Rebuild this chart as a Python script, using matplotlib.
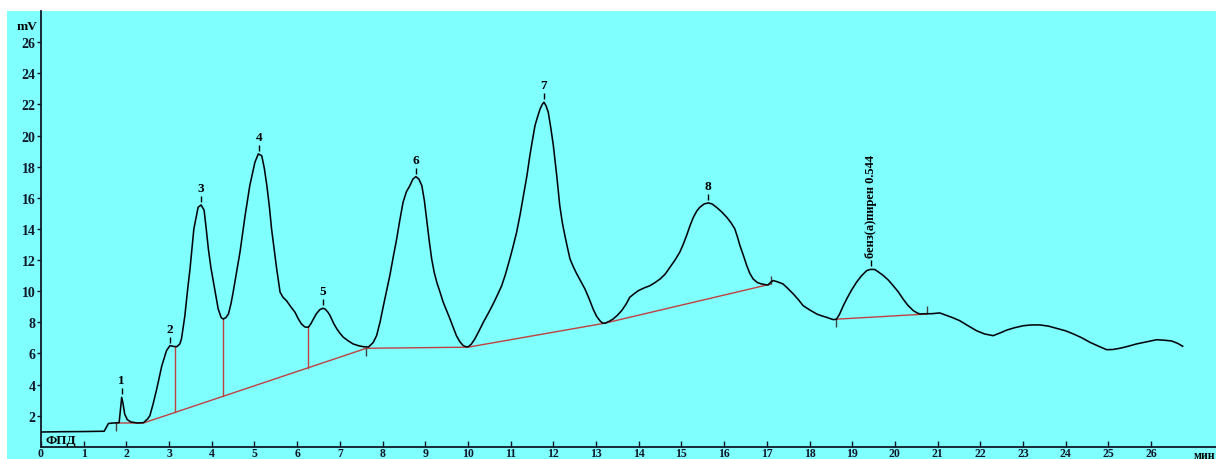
import matplotlib
matplotlib.use("Agg")
import matplotlib.pyplot as plt
import matplotlib.transforms as mtrans
from matplotlib.patches import Rectangle
import numpy as np

plt.rcParams['font.family'] = ['Liberation Serif', 'DejaVu Serif']
plt.rcParams['font.weight'] = 'bold'

# ---- chromatogram trace (time, min ; signal, mV) ----
time_min = [0.0, 0.5, 1.0, 1.48, 1.52, 1.58, 1.70, 1.83, 1.87, 1.89, 1.92, 1.96, 2.02, 2.10, 2.25,
            2.40, 2.50, 2.55, 2.63, 2.71, 2.83, 2.94, 3.02, 3.10, 3.18, 3.25, 3.29, 3.37, 3.43, 3.49,
            3.58, 3.68, 3.75, 3.82, 3.87, 3.92, 3.98, 4.04, 4.10, 4.15, 4.22, 4.27, 4.33, 4.39, 4.45,
            4.50, 4.58, 4.66, 4.78, 4.89, 5.01, 5.09, 5.17, 5.23, 5.29, 5.35, 5.40, 5.46, 5.52, 5.60,
            5.67, 5.75, 5.85, 5.95, 6.02, 6.10, 6.18, 6.26, 6.32, 6.38, 6.45, 6.53, 6.60, 6.65, 6.72,
            6.77, 6.86, 6.93, 7.00, 7.08, 7.20, 7.31, 7.43, 7.55, 7.67, 7.78, 7.86, 7.94, 8.02, 8.10,
            8.17, 8.25, 8.33, 8.40, 8.48, 8.56, 8.64, 8.71, 8.78, 8.85, 8.92, 8.98, 9.03, 9.09, 9.15,
            9.21, 9.27, 9.35, 9.42, 9.50, 9.58, 9.65, 9.73, 9.81, 9.89, 9.95, 10.01, 10.08, 10.16, 10.26,
            10.36, 10.48, 10.59, 10.69, 10.79, 10.88, 10.98, 11.06, 11.14, 11.22, 11.30, 11.38, 11.45,
            11.51, 11.57, 11.63, 11.69, 11.74, 11.78, 11.83, 11.88, 11.94, 12.00, 12.08, 12.15, 12.21,
            12.27, 12.33, 12.39, 12.47, 12.55, 12.65, 12.74, 12.84, 12.93, 13.01, 13.09, 13.15, 13.21,
            13.30, 13.40, 13.50, 13.60, 13.70, 13.79, 13.90, 13.99, 14.12, 14.26, 14.38, 14.50, 14.62,
            14.73, 14.85, 14.96, 15.04, 15.12, 15.20, 15.28, 15.36, 15.43, 15.53, 15.63, 15.72, 15.82,
            15.94, 16.06, 16.16, 16.25, 16.31, 16.37, 16.45, 16.53, 16.60, 16.68, 16.78, 16.88, 16.96,
            17.03, 17.10, 17.15, 17.25, 17.38, 17.50, 17.62, 17.74, 17.85, 18.00, 18.17, 18.30, 18.40,
            18.50, 18.56, 18.63, 18.70, 18.78, 18.87, 18.98, 19.10, 19.22, 19.34, 19.43, 19.53, 19.63,
            19.73, 19.85, 19.96, 20.08, 20.19, 20.30, 20.43, 20.52, 20.59, 20.70, 20.85, 21.05, 21.20,
            21.35, 21.52, 21.70, 21.91, 22.10, 22.30, 22.45, 22.62, 22.80, 23.01, 23.20, 23.40, 23.60,
            23.79, 24.00, 24.18, 24.38, 24.57, 24.78, 24.96, 25.10, 25.27, 25.45, 25.66, 25.90, 26.13,
            26.30, 26.48, 26.62, 26.74]
signal_mv = [0.95, 0.97, 0.98, 1.00, 1.20, 1.50, 1.53, 1.55, 2.60, 3.18, 2.80, 2.10, 1.75, 1.60, 1.53,
             1.55, 1.80, 2.00, 2.80, 3.71, 5.21, 6.18, 6.50, 6.45, 6.43, 6.60, 6.93, 8.43, 10.00, 11.43,
             14.00, 15.39, 15.54, 15.20, 14.00, 12.71, 11.50, 10.57, 9.60, 8.86, 8.30, 8.21, 8.30, 8.53, 9.20,
             9.93, 11.20, 12.50, 14.85, 16.78, 18.28, 18.82, 18.70, 17.90, 16.78, 15.40, 14.00, 12.70, 11.43, 9.93,
             9.60, 9.39, 9.00, 8.64, 8.25, 7.89, 7.70, 7.68, 7.90, 8.21, 8.55, 8.81, 8.90, 8.86, 8.65,
             8.43, 7.90, 7.57, 7.30, 7.04, 6.80, 6.61, 6.50, 6.43, 6.41, 6.70, 7.14, 8.00, 9.07, 10.10,
             11.00, 12.20, 13.35, 14.50, 15.71, 16.40, 16.78, 17.20, 17.36, 17.20, 16.78, 15.80, 14.64, 13.30, 12.07,
             11.20, 10.57, 9.90, 9.29, 8.75, 8.21, 7.70, 7.14, 6.75, 6.50, 6.43, 6.43, 6.60, 6.93, 7.45,
             8.00, 8.60, 9.18, 9.75, 10.35, 11.10, 12.07, 12.90, 13.79, 14.90, 16.14, 17.40, 18.71,
             19.70, 20.64, 21.20, 21.71, 22.00, 22.14, 21.90, 21.50, 20.50, 19.35, 17.40, 15.50, 14.40,
             13.57, 12.80, 12.07, 11.55, 11.10, 10.60, 10.14, 9.50, 8.86, 8.40, 8.10, 7.95, 7.94,
             8.05, 8.21, 8.45, 8.75, 9.15, 9.61, 9.85, 10.03, 10.20, 10.35, 10.55, 10.78, 11.10,
             11.53, 12.00, 12.50, 13.00, 13.57, 14.20, 14.75, 15.15, 15.39, 15.60, 15.67, 15.60, 15.39,
             15.10, 14.75, 14.40, 14.00, 13.50, 12.93, 12.30, 11.64, 11.15, 10.78, 10.55, 10.46, 10.42,
             10.40, 10.60, 10.68, 10.60, 10.46, 10.15, 9.82, 9.45, 9.07, 8.80, 8.53, 8.40, 8.32,
             8.22, 8.17, 8.20, 8.50, 9.00, 9.50, 10.05, 10.57, 11.00, 11.32, 11.40, 11.39, 11.20,
             11.00, 10.70, 10.35, 9.95, 9.50, 9.10, 8.75, 8.60, 8.53, 8.55, 8.55, 8.60, 8.45,
             8.30, 8.10, 7.80, 7.46, 7.25, 7.14, 7.30, 7.50, 7.65, 7.78, 7.83, 7.83, 7.75,
             7.61, 7.45, 7.25, 7.00, 6.71, 6.45, 6.24, 6.25, 6.33, 6.45, 6.61, 6.75, 6.88,
             6.85, 6.80, 6.65, 6.46]

# ---- integration baselines ----
baseline_t = [1.75, 2.40, 7.62, 10.00, 13.20, 17.10]
baseline_v = [1.53, 1.53, 6.33, 6.40, 7.94, 10.46]
bap_baseline_t = [18.63, 20.74]
bap_baseline_v = [8.20, 8.53]
drop_t = [3.14, 4.27, 6.26]

# ---- peak labels ----
peak_names = ['1', '2', '3', '4', '5', '6', '7', '8']
peak_t = [1.89, 3.02, 3.75, 5.10, 6.60, 8.78, 11.78, 15.63]
bap_label = 'бенз(а)пирен 0.544'
bap_t = 19.45

x_ticks = list(range(0, 27))
y_ticks = list(range(2, 27, 2))

W, H = 1216, 460
CYAN = '#80ffff'
RED = '#c04040'
INK = '#101828'

fig = plt.figure(figsize=(W / 100, H / 100), dpi=100, facecolor='white')
bg = Rectangle((7 / W, 0), 1, (H - 12) / H, transform=fig.transFigure,
               facecolor=CYAN, edgecolor='none', zorder=-10)
fig.patches.append(bg)
ax = fig.add_axes([41 / W, 12.2 / H, (W - 41) / W, 435.8 / H])
ax.set_zorder(1)
ax.set_facecolor(CYAN)
ax.set_xlim(0, 27.52)
ax.set_ylim(0, 28.0)

for s in ['top', 'right']:
    ax.spines[s].set_visible(False)
for s in ['left', 'bottom']:
    ax.spines[s].set_color(INK)
    ax.spines[s].set_linewidth(1.3)

ax.set_xticks(x_ticks)
ax.set_xticklabels([str(t) for t in x_ticks], fontsize=8.5, fontweight='bold')
ax.set_yticks(y_ticks)
ax.set_yticklabels([str(t) for t in y_ticks], fontsize=10, fontweight='bold')
ax.tick_params(axis='y', direction='out', length=3, width=1, pad=1, colors=INK)
ax.tick_params(axis='x', direction='in', length=4, width=1, pad=0.3, colors=INK)

# baselines
ax.plot(baseline_t, baseline_v, color=RED, lw=1.0, zorder=2)
ax.plot(bap_baseline_t, bap_baseline_v, color=RED, lw=1.0, zorder=2)
for t in drop_t:
    b = np.interp(t, baseline_t, baseline_v)
    c = np.interp(t, time_min, signal_mv)
    ax.plot([t, t], [b, c], color=RED, lw=1.0, zorder=2)

# trace
ax.plot(time_min, signal_mv, color='#05050a', lw=1.15, zorder=3)

# small markers at baseline ends (offset in pixels)
mark_pts = [(baseline_t[0], baseline_v[0], -1), (baseline_t[2], baseline_v[2], -1),
            (baseline_t[5], baseline_v[5], 1), (bap_baseline_t[0], bap_baseline_v[0], -1),
            (bap_baseline_t[1], bap_baseline_v[1], 1)]
for t, v, d in mark_pts:
    tr = mtrans.offset_copy(ax.transData, fig=fig, x=0, y=4 * d, units='dots')
    ax.plot([t], [v], transform=tr, marker='|', markersize=6, color='#404040', zorder=2)

def dash_above(t, v):
    tr = mtrans.offset_copy(ax.transData, fig=fig, x=0, y=6, units='dots')
    ax.plot([t], [v], transform=tr, marker='|', markersize=5, mew=1.0, color='black', zorder=4)

for name, t in zip(peak_names, peak_t):
    v = np.interp(t, time_min, signal_mv)
    dash_above(t, v)
    tr = mtrans.offset_copy(ax.transData, fig=fig, x=0, y=17, units='dots')
    ax.text(t, v, name, transform=tr, ha='center', va='center', fontsize=9.5,
            fontweight='bold', zorder=4)

v_bap = np.interp(bap_t, time_min, signal_mv)
dash_above(bap_t, v_bap)
tr = mtrans.offset_copy(ax.transData, fig=fig, x=0, y=12, units='dots')
ax.text(bap_t, v_bap, bap_label, transform=tr, rotation=90, ha='center', va='bottom',
        fontsize=9, fontweight='bold', zorder=4)

fig.text(37 / W, 1 - 27 / H, 'mV', ha='right', va='center', fontsize=9.5, fontweight='bold')
fig.text(45 / W, (H - 447) / H, 'ФПД', ha='left', va='bottom', fontsize=9.5, fontweight='bold')
fig.text(1194 / W, 1 - 450 / H, 'мин', ha='left', va='top', fontsize=8.5, fontweight='bold')

fig.savefig('out.png', dpi=100, facecolor='white')
